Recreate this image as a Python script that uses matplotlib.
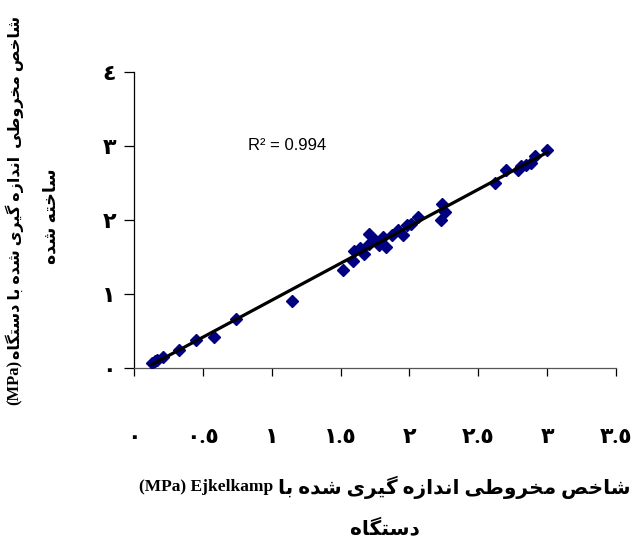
import numpy as np
import matplotlib.pyplot as plt

# measured (Ejkelkamp) vs. built device cone index, MPa
x_ejk = [0.13, 0.15, 0.17, 0.21, 0.33, 0.45, 0.58, 0.74, 1.15, 1.52, 1.59, 1.60,
         1.64, 1.67, 1.71, 1.71, 1.75, 1.78, 1.81, 1.83, 1.87, 1.92, 1.95, 1.98,
         2.01, 2.06, 2.23, 2.24, 2.26, 2.62, 2.70, 2.79, 2.81, 2.85, 2.88, 2.91, 3.00]
y_dev = [0.07, 0.09, 0.11, 0.15, 0.25, 0.38, 0.42, 0.66, 0.91, 1.33, 1.44, 1.58,
         1.62, 1.54, 1.81, 1.68, 1.73, 1.66, 1.77, 1.64, 1.80, 1.86, 1.80, 1.93,
         1.95, 2.04, 2.00, 2.22, 2.11, 2.50, 2.67, 2.68, 2.73, 2.74, 2.77, 2.86, 2.94]
r2_text = "R² = 0.994"
x_ticks = [0, 0.5, 1, 1.5, 2, 2.5, 3, 3.5]
y_ticks = [0, 1, 2, 3, 4]
x_tick_labels = ["٠", "٠.٥", "١", "١.٥", "٢", "٢.٥", "٣", "٣.٥"]
y_tick_labels = ["٠", "١", "٢", "٣", "٤"]

# simple persian shaping: (isolated, final, initial, medial)
FORMS = {
    'ا': ('\uFE8D', '\uFE8E', None, None),
    'ب': ('\uFE8F', '\uFE90', '\uFE91', '\uFE92'),
    'ت': ('\uFE95', '\uFE96', '\uFE97', '\uFE98'),
    'خ': ('\uFEA5', '\uFEA6', '\uFEA7', '\uFEA8'),
    'د': ('\uFEA9', '\uFEAA', None, None),
    'ر': ('\uFEAD', '\uFEAE', None, None),
    'ز': ('\uFEAF', '\uFEB0', None, None),
    'س': ('\uFEB1', '\uFEB2', '\uFEB3', '\uFEB4'),
    'ش': ('\uFEB5', '\uFEB6', '\uFEB7', '\uFEB8'),
    'ص': ('\uFEB9', '\uFEBA', '\uFEBB', '\uFEBC'),
    'ط': ('\uFEC1', '\uFEC2', '\uFEC3', '\uFEC4'),
    'م': ('\uFEE1', '\uFEE2', '\uFEE3', '\uFEE4'),
    'ن': ('\uFEE5', '\uFEE6', '\uFEE7', '\uFEE8'),
    'ه': ('\uFEE9', '\uFEEA', '\uFEEB', '\uFEEC'),
    'و': ('\uFEED', '\uFEEE', None, None),
    'ی': ('\uFBFC', '\uFBFD', '\uFBFE', '\uFBFF'),
    'گ': ('\uFB92', '\uFB93', '\uFB94', '\uFB95'),
}


def fa(s):
    out = []
    for i, c in enumerate(s):
        if c not in FORMS:
            out.append(c)
            continue
        prev = s[i - 1] if i > 0 else ''
        nxt = s[i + 1] if i + 1 < len(s) else ''
        j_prev = prev in FORMS and FORMS[prev][2] is not None
        j_next = nxt in FORMS and FORMS[c][2] is not None
        f = FORMS[c]
        if j_prev and j_next:
            out.append(f[3])
        elif j_prev:
            out.append(f[1])
        elif j_next:
            out.append(f[2])
        else:
            out.append(f[0])
    return ''.join(out)[::-1]


fam = ['Liberation Serif', 'DejaVu Sans']
W, H = 632, 543

fig = plt.figure(figsize=(6.32, 5.43), dpi=100)
ax = fig.add_axes([134 / W, 1 - 368 / H, (616 - 134) / W, (368 - 72) / H])

ax.plot(x_ejk, y_dev, 'D', color='#000080', ms=6, mec='#000080', zorder=3)
k, b = np.polyfit(x_ejk, y_dev, 1)
xl = np.array([min(x_ejk), max(x_ejk)])
ax.plot(xl, k * xl + b, color='black', lw=2.3, zorder=4)

ax.set_xlim(0, 3.5)
ax.set_ylim(0, 4)
ax.spines['top'].set_visible(False)
ax.spines['right'].set_visible(False)
ax.spines['left'].set_linewidth(0.9)
ax.spines['bottom'].set_linewidth(0.9)
ax.spines['bottom'].set_color('#555555')

ax.set_xticks(x_ticks)
ax.set_xticklabels(x_tick_labels, family=fam, fontsize=16, fontweight='bold')
ax.set_yticks(y_ticks)
ax.set_yticklabels(y_tick_labels, family=fam, fontsize=16, fontweight='bold')
ax.tick_params(axis='x', direction='out', length=6, width=0.9, pad=37)
ax.tick_params(axis='y', direction='out', length=7, width=0.9, pad=6)

ax.text(0.83, 3.01, r2_text, family=['Liberation Sans', 'DejaVu Sans'],
        fontsize=12, ha='left', va='center')

rend = fig.canvas.get_renderer()

# x axis title (two lines, persian + latin)
t1 = fig.text(630 / W, 1 - 487 / H, fa("شاخص مخروطی اندازه گیری شده با"),
              family=fam, fontsize=14.5, fontweight='bold', ha='right', va='center')
bb = t1.get_window_extent(rend)
fig.text((bb.x0 - 4) / W, 1 - 487 / H, "(MPa) Ejkelkamp",
         family=fam, fontsize=12.5, fontweight='bold', ha='right', va='center')
fig.text(385 / W, 1 - 530 / H, fa("دستگاه"),
         family=fam, fontsize=14.5, fontweight='bold', ha='center', va='center')

# y axis title (two lines, rotated)
t2 = fig.text(15 / W, 1 - 405 / H, "(MPa)",
              family=fam, fontsize=12, fontweight='bold', rotation=90,
              ha='center', va='bottom')
bb = t2.get_window_extent(rend)
fig.text(15 / W, (bb.y1 + 1) / H, fa("شاخص مخروطی  اندازه گیری شده با دستگاه"),
         family=fam, fontsize=11.5, fontweight='bold', rotation=90,
         ha='center', va='bottom')
fig.text(52 / W, 1 - 216 / H, fa("ساخته شده"),
         family=fam, fontsize=12.5, fontweight='bold', rotation=90,
         ha='center', va='center')

fig.savefig('out.png', dpi=100)
